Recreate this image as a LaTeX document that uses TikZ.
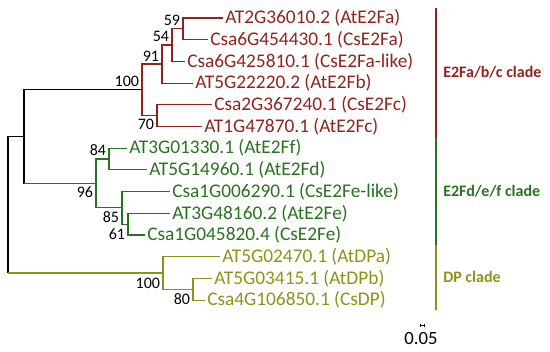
\documentclass[tikz,border=0pt]{standalone}
\usepackage{fontspec}
\setmainfont{Carlito}
\definecolor{abcred}{RGB}{145,35,30}
\definecolor{defgreen}{RGB}{40,115,30}
\definecolor{dpolive}{RGB}{145,145,25}
\begin{document}
\begin{tikzpicture}[x=0.75pt, y=-0.75pt,
  leaf/.style={anchor=west, inner sep=1.5pt, font=\fontsize{14.5}{16}\selectfont},
  boot/.style={inner sep=0.5pt, font=\fontsize{12}{13}\selectfont},
  clade/.style={anchor=west, inner sep=0pt, font=\fontsize{12}{14}\selectfont\bfseries},
  branch/.style={line width=0.8pt},
  cladebar/.style={line width=1.2pt},
]
  \useasboundingbox (0,0) rectangle (550,351);

  % Internal nodes
  \coordinate (root) at (8,204.9);
  \coordinate (nA)   at (24,136.7);
  \coordinate (nB)   at (142,89.9);
  \coordinate (n91)  at (162,64);
  \coordinate (n54)  at (172,45);
  \coordinate (n59)  at (183,28.9);
  \coordinate (n70)  at (157,115.7);
  \coordinate (n96)  at (96,183.5);
  \coordinate (n84)  at (109,159);
  \coordinate (n85)  at (122,207.9);
  \coordinate (n61)  at (128,224.2);
  \coordinate (nDP)  at (163,273);
  \coordinate (n80)  at (193,289.3);

  % Leaves
  \node[leaf, text=abcred] (at2g) at (223,18)    {AT2G36010.2 (AtE2Fa)};
  \node[leaf, text=abcred] (cs6a) at (208,39.7)  {Csa6G454430.1 (CsE2Fa)};
  \node[leaf, text=abcred] (cs6b) at (185,61.4)  {Csa6G425810.1 (CsE2Fa-like)};
  \node[leaf, text=abcred] (at5b) at (193,83.1)  {AT5G22220.2 (AtE2Fb)};
  \node[leaf, text=abcred] (cs2c) at (212,104.8) {Csa2G367240.1 (CsE2Fc)};
  \node[leaf, text=abcred] (at1c) at (202,126.5) {AT1G47870.1 (AtE2Fc)};
  \node[leaf, text=defgreen] (at3f) at (127,148.2) {AT3G01330.1 (AtE2Ff)};
  \node[leaf, text=defgreen] (at5d) at (147,169.9) {AT5G14960.1 (AtE2Fd)};
  \node[leaf, text=defgreen] (cs1l) at (170,191.6) {Csa1G006290.1 (CsE2Fe-like)};
  \node[leaf, text=defgreen] (at3e) at (170,213.3) {AT3G48160.2 (AtE2Fe)};
  \node[leaf, text=defgreen] (cs1e) at (145,235)   {Csa1G045820.4 (CsE2Fe)};
  \node[leaf, text=dpolive] (dpa) at (220,256.7) {AT5G02470.1 (AtDPa)};
  \node[leaf, text=dpolive] (dpb) at (212,278.4) {AT5G03415.1 (AtDPb)};
  \node[leaf, text=dpolive] (csdp) at (205,300.1) {Csa4G106850.1 (CsDP)};

  % Bootstrap values
  \node[boot, anchor=south east] (b100a) at (140,88)  {100};
  \node[boot, anchor=south east] (b91)   at (160,62)  {91};
  \node[boot, anchor=south east] (b54)   at (170,43)  {54};
  \node[boot, anchor=south east] (b59)   at (181,27)  {59};
  \node[boot, anchor=north east] (b70)   at (155,118) {70};
  \node[boot, anchor=south east] (b84)   at (107,157) {84};
  \node[boot, anchor=north east] (b96)   at (94,186)  {96};
  \node[boot, anchor=north east] (b85)   at (120,211) {85};
  \node[boot, anchor=north east] (b61)   at (126,228) {61};
  \node[boot, anchor=north east] (b100b) at (161,277) {100};
  \node[boot, anchor=north east] (b80)   at (191,293) {80};

  % Branches
  \draw[branch, black] (root) |- (nA);
  \draw[branch, black] (root) -- (root |- nDP);
  \draw[branch, black] (nA) |- (nB);
  \draw[branch, black] (nA) -- (nA |- n96);
  \foreach \p/\c in {nB/n91, nB/n70, n91/n54, n91/at5b, n54/n59, n54/cs6b,
                     n59/at2g, n59/cs6a, n70/cs2c, n70/at1c}
    \draw[branch, abcred] (\p) |- (\c);
  \draw[branch, defgreen] (nA |- n96) -- (n96);
  \foreach \p/\c in {n96/n84, n96/n85, n84/at3f, n84/at5d,
                     n85/cs1l, n85/n61, n61/at3e, n61/cs1e}
    \draw[branch, defgreen] (\p) |- (\c);
  \draw[branch, dpolive] (root |- nDP) -- (nDP);
  \foreach \p/\c in {nDP/dpa, nDP/n80, n80/dpb, n80/csdp}
    \draw[branch, dpolive] (\p) |- (\c);

  % Clades
  \draw[cladebar, abcred]   (436,8)   -- (436,138);
  \draw[cladebar, defgreen] (436,138) -- (436,245);
  \draw[cladebar, dpolive]  (436,245) -- (436,310);
  \node[clade, text=abcred]   (cabc) at (443,72)  {E2Fa/b/c clade};
  \node[clade, text=defgreen] (cdef) at (443,191) {E2Fd/e/f clade};
  \node[clade, text=dpolive]  (cdp)  at (443,277) {DP clade};

  % Scale bar
  \node[inner sep=0pt, anchor=north, font=\fontsize{14}{15}\selectfont] (scale) at (421,332) {0.05};
  \draw[line width=0.6pt] (420,325) -- (424,325)
    (420,323.5) -- (420,326.5) (424,323.5) -- (424,326.5);
\end{tikzpicture}
\end{document}
